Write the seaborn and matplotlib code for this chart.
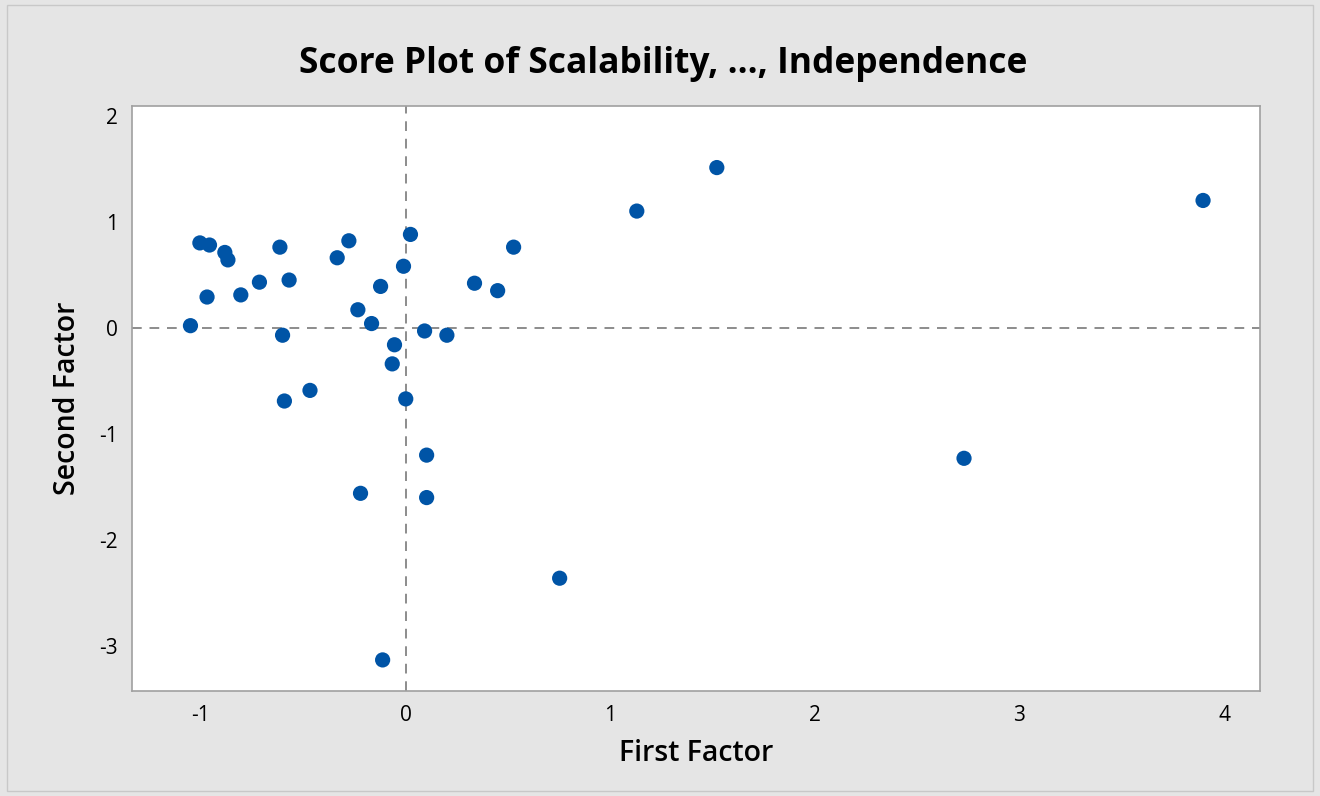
import matplotlib
matplotlib.use("Agg")
import matplotlib.pyplot as plt
import seaborn as sns
import pandas as pd

first_factor = [-1.051, -1.005, -0.958, -0.883, -0.868, -0.970, -0.805, -0.714, -0.614, -0.569,
                -0.601, -0.592, -0.467, -0.334, -0.277, -0.233, -0.122, -0.166, -0.054, -0.065,
                -0.010, 0.024, 0.001, 0.093, 0.202, 0.337, 0.450, 0.528, 0.103, 0.103,
                -0.220, -0.112, 0.753, 1.130, 1.521, 3.897, 2.729]
second_factor = [0.02, 0.80, 0.78, 0.71, 0.64, 0.29, 0.31, 0.43, 0.76, 0.45,
                 -0.07, -0.69, -0.59, 0.66, 0.82, 0.17, 0.39, 0.04, -0.16, -0.34,
                 0.58, 0.88, -0.67, -0.03, -0.07, 0.42, 0.35, 0.76, -1.20, -1.60,
                 -1.56, -3.13, -2.36, 1.10, 1.51, 1.20, -1.23]
x_ticks = [-1, 0, 1, 2, 3, 4]
y_ticks = [-3, -2, -1, 0, 1, 2]

df = pd.DataFrame({"First Factor": first_factor, "Second Factor": second_factor})

sns.set_style("white")
plt.rcParams['font.family'] = ['Open Sans', 'DejaVu Sans']
plt.rcParams['axes.unicode_minus'] = False
plt.rcParams['text.color'] = 'black'
plt.rcParams['axes.labelcolor'] = 'black'

fig = plt.figure(figsize=(13.2, 7.96), dpi=100, facecolor='#e5e5e5')
ax = fig.add_axes([0.0998, 0.1323, 0.9545 - 0.0998, 0.8668 - 0.1323])
ax.set_facecolor('white')

ax.axhline(0, color='#8c8c8c', linestyle=(0, (5, 4)), linewidth=1.4, zorder=1)
ax.axvline(0, color='#8c8c8c', linestyle=(0, (5, 4)), linewidth=1.4, zorder=1)

sns.scatterplot(data=df, x="First Factor", y="Second Factor", ax=ax,
                color='#0054a6', s=120, edgecolor='none', zorder=3)

ax.set_xlim(-1.338, 4.175)
ax.set_ylim(-3.42, 2.09)
ax.set_xticks(x_ticks)
ax.set_yticks(y_ticks)
ax.tick_params(axis='both', direction='out', length=6, width=1, color='#a0a0a0',
               labelsize=15, labelcolor='black', pad=4)
for sp in ax.spines.values():
    sp.set_color('#a0a0a0')
    sp.set_linewidth(1.2)

ax.set_xlabel("First Factor", fontsize=20.5, fontweight='semibold', labelpad=10, color='black')
ax.set_ylabel("Second Factor", fontsize=20.5, fontweight='semibold', labelpad=12, color='black')
fig.text(0.5025, 0.92, "Score Plot of Scalability, ..., Independence", ha='center', va='center',
         fontsize=25.5, fontweight='bold', color='black')

# outer frame
fig.patches.append(plt.Rectangle((0.005, 0.006), 0.99, 0.988, transform=fig.transFigure,
                                 fill=False, edgecolor='#c8c8c8', linewidth=1))

fig.savefig("out.png", dpi=100, facecolor=fig.get_facecolor())
